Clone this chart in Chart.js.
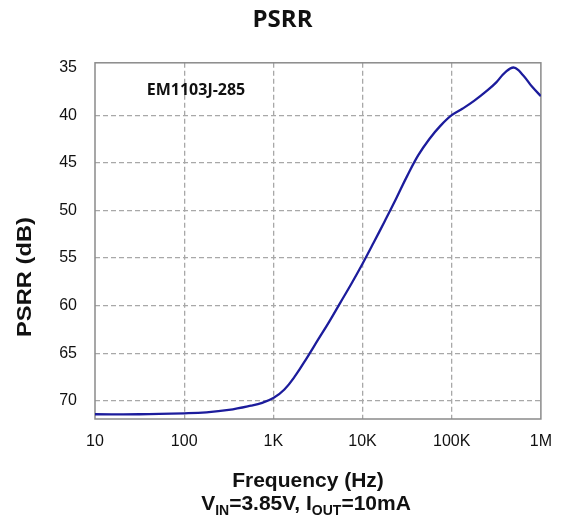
<!DOCTYPE html>
<html>
<head>
<meta charset="utf-8">
<script src="https://cdn.jsdelivr.net/npm/chart.js@4.4.1/dist/chart.umd.min.js"></script>
<style>
  html, body { margin: 0; padding: 0; background: #ffffff; }
  #wrap { width: 565px; height: 521px; position: relative; }
</style>
</head>
<body>
<div id="wrap"><canvas id="c" width="565" height="521"></canvas></div>
<script>
// Frequency (Hz) and PSRR (dB)
const freqHz = [10, 31.6, 100, 178, 316, 562, 750, 1000, 1330, 1780, 2370, 3160, 4220, 5620, 7500, 10000, 13300, 17800, 23700, 31600, 42200, 56200, 75000, 100000, 133000, 178000, 251000, 316000, 398000, 501000, 631000, 794000, 1000000];
const psrrDb = [71.4, 71.4, 71.3, 71.2, 70.95, 70.5, 70.2, 69.7, 68.8, 67.3, 65.5, 63.6, 61.7, 59.7, 57.7, 55.6, 53.4, 51.1, 48.8, 46.4, 44.2, 42.5, 41.1, 40.0, 39.3, 38.5, 37.4, 36.55, 35.5, 35.0, 35.8, 37.0, 38.0];

const xTickValues = [10, 100, 1000, 10000, 100000, 1000000];
const xTickLabels = ['10', '100', '1K', '10K', '100K', '1M'];
const yTickValues = [35, 40, 45, 50, 55, 60, 65, 70];

const chartTitle = 'PSRR';
const deviceLabel = 'EM1103J-285';
const xTitle = 'Frequency (Hz)';
const yTitle = 'PSRR (dB)';
const condParts = [['V', false], ['IN', true], ['=3.85V, I', false], ['OUT', true], ['=10mA', false]];

const points = freqHz.map((f, i) => ({ x: f, y: psrrDb[i] }));

const frameAndText = {
  id: 'frameAndText',
  beforeDatasetsDraw(chart) {
    const { ctx, chartArea: a } = chart;
    ctx.save();
    ctx.strokeStyle = '#8a8a8a';
    ctx.lineWidth = 1.5;
    ctx.setLineDash([]);
    ctx.strokeRect(a.left, a.top, a.right - a.left, a.bottom - a.top);
    ctx.restore();
  },
  afterDraw(chart) {
    const { ctx, chartArea: a } = chart;
    ctx.save();
    ctx.fillStyle = '#111111';
    // device label
    ctx.font = 'bold 16px "Open Sans", sans-serif';
    ctx.textAlign = 'center';
    ctx.textBaseline = 'middle';
    ctx.fillText(deviceLabel, a.left + 101, a.top + 28);

    // y axis title (rotated)
    ctx.save();
    ctx.translate(25, 277);
    ctx.rotate(-Math.PI / 2);
    ctx.scale(1.13, 1);
    ctx.font = 'bold 21px "Liberation Sans", Arial, sans-serif';
    ctx.fillText(yTitle, 0, 0);
    ctx.restore();

    // x axis title
    ctx.font = 'bold 21px "Liberation Sans", Arial, sans-serif';
    ctx.textBaseline = 'alphabetic';
    ctx.fillText(xTitle, 308, 487);

    // condition line with subscripts
    const mainFont = 'bold 21px "Liberation Sans", Arial, sans-serif';
    const subFont = 'bold 14px "Liberation Sans", Arial, sans-serif';
    let total = 0;
    condParts.forEach(([t, sub]) => { ctx.font = sub ? subFont : mainFont; total += ctx.measureText(t).width; });
    let x = 306 - total / 2;
    ctx.textAlign = 'left';
    condParts.forEach(([t, sub]) => {
      ctx.font = sub ? subFont : mainFont;
      ctx.fillText(t, x, sub ? 515 : 510);
      x += ctx.measureText(t).width;
    });
    ctx.restore();
  }
};

new Chart(document.getElementById('c'), {
  type: 'line',
  data: {
    datasets: [{
      data: points,
      borderColor: '#1c1c9c',
      borderWidth: 2.3,
      pointRadius: 0,
      tension: 0.4,
      fill: false
    }]
  },
  options: {
    responsive: false,
    animation: false,
    devicePixelRatio: 1,
    layout: { padding: { left: 20, right: 20, top: 0, bottom: 0 } },
    plugins: {
      legend: { display: false },
      tooltip: { enabled: false },
      title: {
        display: true,
        text: chartTitle,
        color: '#111111',
        font: { family: '"Open Sans", sans-serif', size: 24, weight: 'bold', lineHeight: 1.2 },
        padding: { top: 6, bottom: 28 }
      }
    },
    scales: {
      x: {
        type: 'logarithmic',
        min: 10,
        max: 1000000,
        afterBuildTicks: (s) => { s.ticks = xTickValues.map(v => ({ value: v })); },
        afterFit: (s) => { s.height = 102; },
        ticks: {
          autoSkip: false,
          maxRotation: 0,
          padding: 13,
          color: '#111111',
          font: { family: '"Liberation Sans", Arial, sans-serif', size: 16 },
          callback: (v) => { const i = xTickValues.indexOf(v); return i >= 0 ? xTickLabels[i] : ''; }
        },
        grid: {
          drawTicks: false,
          color: (c) => (c.tick && (c.tick.value === 10 || c.tick.value === 1000000)) ? 'rgba(0,0,0,0)' : '#a8a8a8',
          lineWidth: 1.3
        },
        border: { display: false, dash: [5, 3] }
      },
      y: {
        type: 'linear',
        reverse: true,
        min: 34.5,
        max: 71.9,
        afterBuildTicks: (s) => { s.ticks = yTickValues.map(v => ({ value: v })); },
        afterFit: (s) => { s.width = 75; },
        ticks: {
          padding: 18,
          color: '#111111',
          font: { family: '"Liberation Sans", Arial, sans-serif', size: 16 }
        },
        grid: {
          drawTicks: false,
          color: (c) => (c.tick && c.tick.value === 35) ? 'rgba(0,0,0,0)' : '#a8a8a8',
          lineWidth: 1.3
        },
        border: { display: false, dash: [5, 3] }
      }
    }
  },
  plugins: [frameAndText]
});
</script>
</body>
</html>
